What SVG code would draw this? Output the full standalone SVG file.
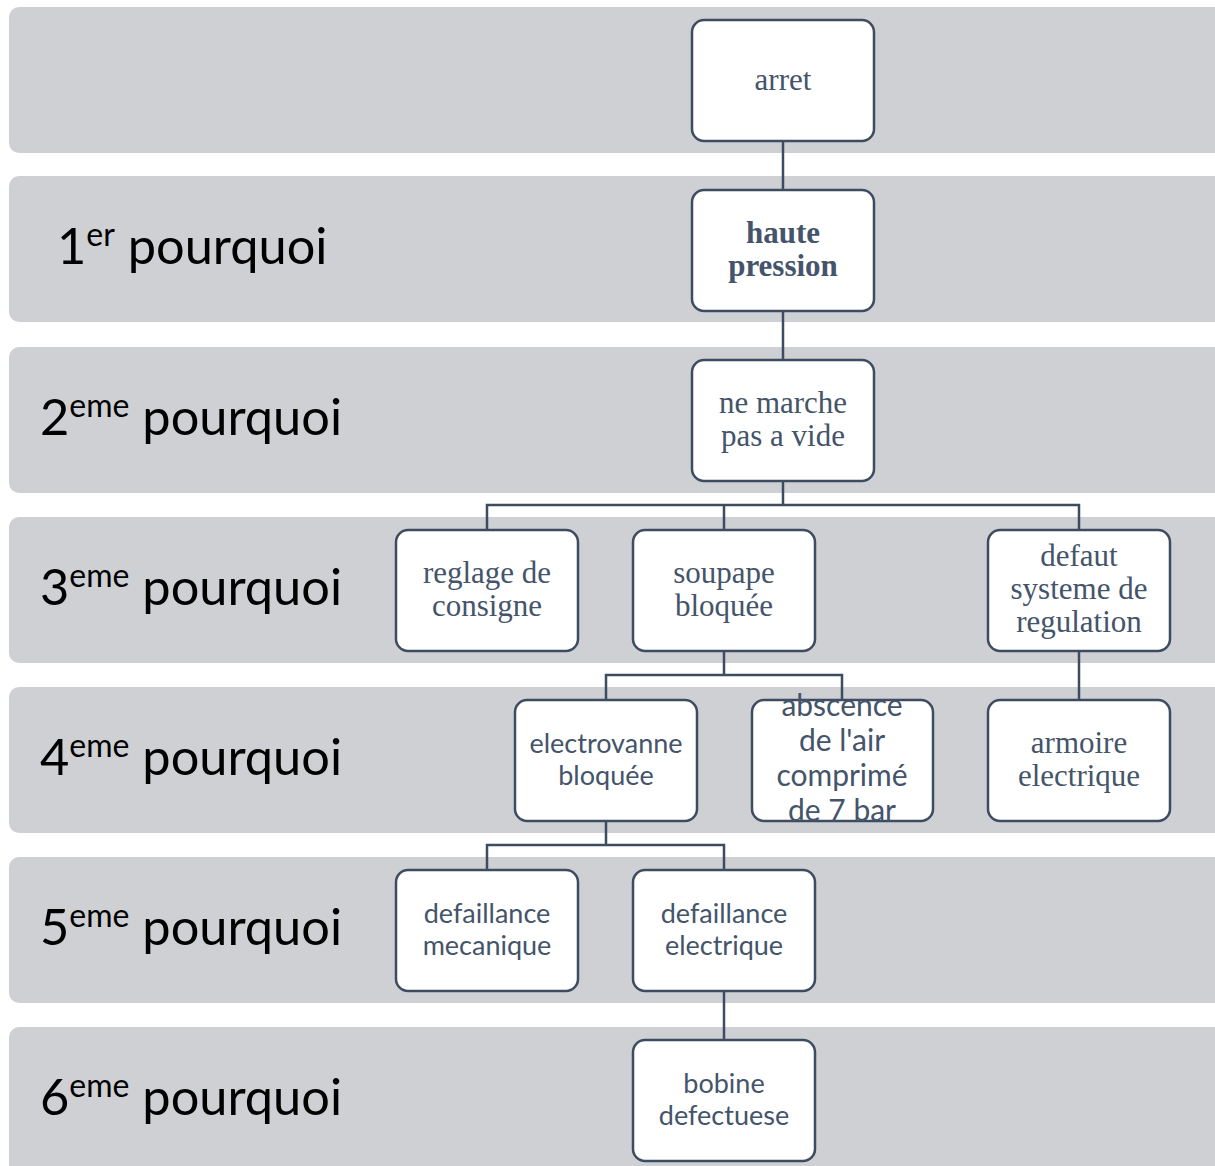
<svg xmlns="http://www.w3.org/2000/svg" width="1215" height="1166" viewBox="0 0 1215 1166">
<style>
.band{fill:#cfd0d4}
.node rect{fill:#ffffff;stroke:#3e4c61;stroke-width:2.5}
.serif{font-family:"Liberation Serif","Times New Roman",serif;font-size:31px;fill:#44546a;text-anchor:middle}
.bold{font-weight:bold}
.sans{font-family:Lato,"Liberation Sans",sans-serif;font-size:27px;fill:#44546a;text-anchor:middle}
.big{font-size:30px}
.lbl{font-family:Lato,"Liberation Sans",sans-serif;font-size:50.5px;fill:#000000}
.sup{font-size:32px}
.conn{fill:none;stroke:#3e4c61;stroke-width:2.5}
</style>
<defs>
<clipPath id="clipAbs"><rect x="745" y="680" width="195" height="143"/></clipPath>
</defs>
<g id="bands">
<rect class="band" x="9" y="7" width="1220" height="146" rx="10"/>
<rect class="band" x="9" y="176" width="1220" height="146" rx="10"/>
<rect class="band" x="9" y="347" width="1220" height="146" rx="10"/>
<rect class="band" x="9" y="517" width="1220" height="146" rx="10"/>
<rect class="band" x="9" y="687" width="1220" height="146" rx="10"/>
<rect class="band" x="9" y="857" width="1220" height="146" rx="10"/>
<rect class="band" x="9" y="1027" width="1220" height="160" rx="10"/>
</g>
<g id="labels">
<text class="lbl" x="57" y="264">1<tspan class="sup" dy="-18">er</tspan><tspan dy="18"> pourquoi</tspan></text>
<text class="lbl" x="40" y="435">2<tspan class="sup" dy="-18">eme</tspan><tspan dy="18"> pourquoi</tspan></text>
<text class="lbl" x="40" y="605">3<tspan class="sup" dy="-18">eme</tspan><tspan dy="18"> pourquoi</tspan></text>
<text class="lbl" x="40" y="775">4<tspan class="sup" dy="-18">eme</tspan><tspan dy="18"> pourquoi</tspan></text>
<text class="lbl" x="40" y="945">5<tspan class="sup" dy="-18">eme</tspan><tspan dy="18"> pourquoi</tspan></text>
<text class="lbl" x="40" y="1115">6<tspan class="sup" dy="-18">eme</tspan><tspan dy="18"> pourquoi</tspan></text>
</g>
<g id="connectors">
<path class="conn" d="M783 141V190"/>
<path class="conn" d="M783 311V360"/>
<path class="conn" d="M783 481V505M487 530V505H1079V530M724 505V530"/>
<path class="conn" d="M724 651V675M606 700V675H842V700"/>
<path class="conn" d="M1079 651V700"/>
<path class="conn" d="M606 821V845M487 870V845H724V870"/>
<path class="conn" d="M724 991V1040"/>
</g>
<g id="n-arret" class="node"><rect x="692" y="20" width="182" height="121" rx="12"/><text class="serif" x="783" y="90">arret</text></g>
<g id="n-haute" class="node"><rect x="692" y="190" width="182" height="121" rx="12"/><text class="serif bold" x="783" y="243">haute</text><text class="serif bold" x="783" y="276">pression</text></g>
<g id="n-nemarche" class="node"><rect x="692" y="360" width="182" height="121" rx="12"/><text class="serif" x="783" y="413">ne marche</text><text class="serif" x="783" y="446">pas a vide</text></g>
<g id="n-reglage" class="node"><rect x="396" y="530" width="182" height="121" rx="12"/><text class="serif" x="487" y="583">reglage de</text><text class="serif" x="487" y="616">consigne</text></g>
<g id="n-soupape" class="node"><rect x="633" y="530" width="182" height="121" rx="12"/><text class="serif" x="724" y="583">soupape</text><text class="serif" x="724" y="616">bloquée</text></g>
<g id="n-defaut" class="node"><rect x="988" y="530" width="182" height="121" rx="12"/><text class="serif" x="1079" y="566">defaut</text><text class="serif" x="1079" y="599">systeme de</text><text class="serif" x="1079" y="632">regulation</text></g>
<g id="n-electrovanne" class="node"><rect x="515" y="700" width="182" height="121" rx="12"/><text class="sans" x="606" y="753">electrovanne</text><text class="sans" x="606" y="785">bloquée</text></g>
<g id="n-abscence" class="node"><rect x="752" y="700" width="181" height="121" rx="12"/><g clip-path="url(#clipAbs)"><text class="sans big" x="842" y="716">abscence</text><text class="sans big" x="842" y="751">de l'air</text><text class="sans big" x="842" y="786">comprimé</text><text class="sans big" x="842" y="821">de 7 bar</text></g></g>
<g id="n-armoire" class="node"><rect x="988" y="700" width="182" height="121" rx="12"/><text class="serif" x="1079" y="753">armoire</text><text class="serif" x="1079" y="786">electrique</text></g>
<g id="n-defmeca" class="node"><rect x="396" y="870" width="182" height="121" rx="12"/><text class="sans" x="487" y="923">defaillance</text><text class="sans" x="487" y="955">mecanique</text></g>
<g id="n-defelec" class="node"><rect x="633" y="870" width="182" height="121" rx="12"/><text class="sans" x="724" y="923">defaillance</text><text class="sans" x="724" y="955">electrique</text></g>
<g id="n-bobine" class="node"><rect x="633" y="1040" width="182" height="121" rx="12"/><text class="sans" x="724" y="1093">bobine</text><text class="sans" x="724" y="1125">defectuese</text></g>
</svg>
